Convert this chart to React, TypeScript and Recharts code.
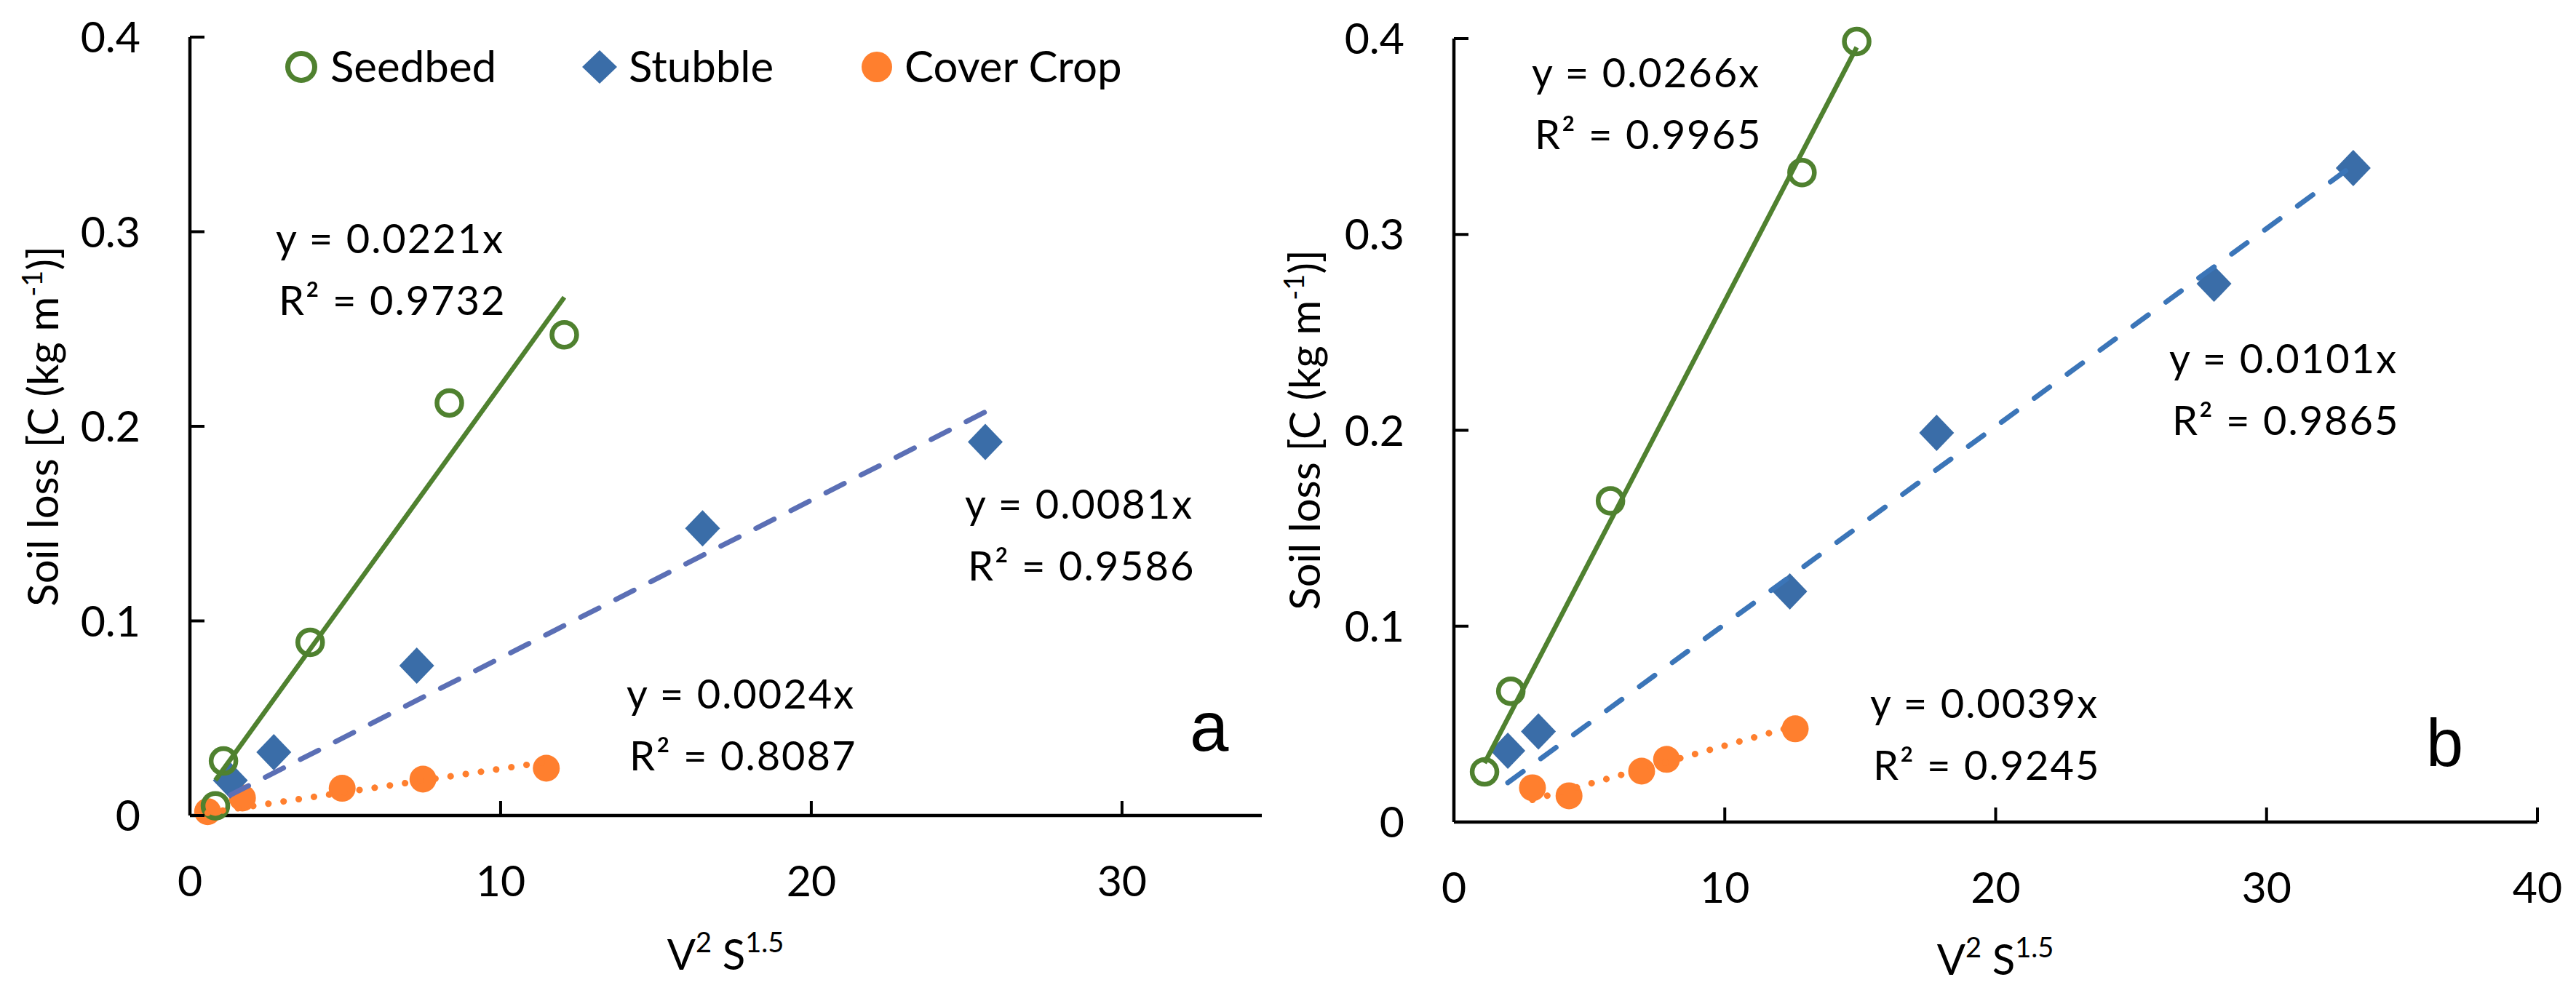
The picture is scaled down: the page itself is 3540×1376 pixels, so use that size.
import React from 'react';
import { ScatterChart, Scatter, XAxis, YAxis, Legend } from 'recharts';

// panel a
const seedbedA = [
  { x: 0.82, y: 0.005 },
  { x: 1.08, y: 0.028 },
  { x: 3.87, y: 0.089 },
  { x: 8.35, y: 0.212 },
  { x: 12.05, y: 0.247 },
];
const stubbleA = [
  { x: 1.3, y: 0.018 },
  { x: 2.7, y: 0.0325 },
  { x: 7.3, y: 0.077 },
  { x: 16.5, y: 0.1476 },
  { x: 25.6, y: 0.192 },
];
const coverA = [
  { x: 0.57, y: 0.002 },
  { x: 1.69, y: 0.009 },
  { x: 4.9, y: 0.014 },
  { x: 7.5, y: 0.0187 },
  { x: 11.47, y: 0.0243 },
];

// panel b
const seedbedB = [
  { x: 1.13, y: 0.0256 },
  { x: 2.1, y: 0.0668 },
  { x: 5.78, y: 0.164 },
  { x: 12.85, y: 0.3316 },
  { x: 14.87, y: 0.3985 },
];
const stubbleB = [
  { x: 1.99, y: 0.0364 },
  { x: 3.12, y: 0.0462 },
  { x: 12.4, y: 0.1177 },
  { x: 17.82, y: 0.1987 },
  { x: 28.06, y: 0.2748 },
  { x: 33.2, y: 0.3339 },
];
const coverB = [
  { x: 2.9, y: 0.0175 },
  { x: 4.25, y: 0.0134 },
  { x: 6.93, y: 0.026 },
  { x: 7.85, y: 0.032 },
  { x: 12.6, y: 0.0476 },
];

// trendline slopes and R² shown on the chart
const slopesA = [0.0221, 0.0081, 0.0024];
const r2A = ['0.9732', '0.9586', '0.8087'];
const slopesB = [0.0266, 0.0101, 0.0039];
const r2B = ['0.9965', '0.9865', '0.9245'];

const yTicks = [0, 0.1, 0.2, 0.3, 0.4];
const xTicksA = [0, 10, 20, 30];
const xTicksB = [0, 10, 20, 30, 40];

const seriesNames = ['Seedbed', 'Stubble', 'Cover Crop'];

const FONT = 'Lato, "Open Sans", sans-serif';
const GREEN = '#4F812F';
const BLUE = '#3A6DA8';
const ORANGE = '#FF7F2E';

// line through origin spanning the x range of the data
const trend = (data: { x: number; y: number }[], slope: number) => {
  const xs = data.map((d) => d.x);
  const lo = Math.min(...xs);
  const hi = Math.max(...xs);
  return [
    { x: lo, y: slope * lo },
    { x: hi, y: slope * hi },
  ];
};

const Ring = (p: any) => (
  <circle cx={p.cx} cy={p.cy} r={17} fill="#fff" fillOpacity={0} stroke={GREEN} strokeWidth={6.5} />
);
const Diamond = (p: any) => (
  <path d={`M${p.cx},${p.cy - 25}L${p.cx + 24},${p.cy}L${p.cx},${p.cy + 25}L${p.cx - 24},${p.cy}Z`} fill={BLUE} />
);
const Dot = (p: any) => <circle cx={p.cx} cy={p.cy} r={18.5} fill={ORANGE} />;
const NoShape = () => <g />;

const YTick = (props: any) => {
  const { x, y, payload } = props;
  return (
    <g>
      <line x1={x} x2={x + 20} y1={y} y2={y} stroke="#000" strokeWidth={4} />
      <text x={x - 68} y={y} dy="0.36em" textAnchor="end" fontFamily={FONT} fontSize={59} fill="#000">
        {payload.value}
      </text>
    </g>
  );
};

const XTick = (props: any) => {
  const { x, y, payload } = props;
  return (
    <g>
      <line x1={x} x2={x} y1={y} y2={y - 20} stroke="#000" strokeWidth={4} />
      <text x={x} y={y + 111} textAnchor="middle" fontFamily={FONT} fontSize={59} fill="#000">
        {payload.value}
      </text>
    </g>
  );
};

const LegendBox = () => (
  <svg width={1250} height={100}>
    <circle cx={54} cy={52} r={18.5} fill="none" stroke={GREEN} strokeWidth={7} />
    <text x={94} y={73} fontFamily={FONT} fontSize={60} fill="#000">{seriesNames[0]}</text>
    <path d="M464,29L488,52L464,75L440,52Z" fill={BLUE} />
    <text x={504} y={73} fontFamily={FONT} fontSize={60} fill="#000">{seriesNames[1]}</text>
    <circle cx={845} cy={52} r={21} fill={ORANGE} />
    <text x={883} y={73} fontFamily={FONT} fontSize={60} fill="#000">{seriesNames[2]}</text>
  </svg>
);

const Equation = ({ x, y, slope, r2 }: { x: number; y: number; slope: number; r2: string }) => (
  <g fontFamily={FONT} fontSize={56} fill="#000" letterSpacing={2}>
    <text x={x} y={y}>{`y = ${slope}x`}</text>
    <text x={x + 4} y={y + 85}>{`R² = ${r2}`}</text>
  </g>
);

const YTitle = ({ x, y }: { x: number; y: number }) => (
  <text x={x} y={y} transform={`rotate(-90 ${x} ${y})`} textAnchor="middle" dy="0.36em" fontFamily={FONT} fontSize={58} fill="#000">
    Soil loss [C (kg m<tspan dy={-22} fontSize={38}>-1</tspan>
    <tspan dy={22}>)]</tspan>
  </text>
);

const XTitle = ({ x, y }: { x: number; y: number }) => (
  <text x={x} y={y} textAnchor="middle" fontFamily={FONT} fontSize={58} fill="#000">
    V<tspan dy={-24} fontSize={38}>2</tspan>
    <tspan dy={24}> S</tspan>
    <tspan dy={-24} fontSize={38}>1.5</tspan>
  </text>
);

const axisLine = { stroke: '#000', strokeWidth: 4.5 };

const App = () => {
  return (
    <div style={{ position: 'absolute', left: 0, top: 0, width: 3540, height: 1376, background: '#fff', display: 'flex' }}>
      <ScatterChart width={1740} height={1376} margin={{ top: 51, right: 6, bottom: 105, left: 61 }}>
        <XAxis type="number" dataKey="x" domain={[0, 34.5]} ticks={xTicksA} allowDataOverflow height={150}
          axisLine={axisLine} tickLine={false} tickSize={0} tickMargin={0} tick={<XTick />} />
        <YAxis type="number" dataKey="y" domain={[0, 0.4]} ticks={yTicks} width={200}
          axisLine={axisLine} tickLine={false} tickSize={0} tickMargin={0} tick={<YTick />} />
        <Scatter name="Cover Crop" data={coverA} shape={Dot} isAnimationActive={false} />
        <Scatter name="Stubble" data={stubbleA} shape={Diamond} isAnimationActive={false} />
        <Scatter name="Seedbed" data={seedbedA} shape={Ring} isAnimationActive={false} />
        <Scatter data={trend(coverA, slopesA[2])} shape={NoShape} legendType="none" isAnimationActive={false}
          line={{ stroke: ORANGE, strokeWidth: 9, strokeDasharray: '0.1 21', strokeLinecap: 'round' }} />
        <Scatter data={trend(stubbleA, slopesA[1])} shape={NoShape} legendType="none" isAnimationActive={false}
          line={{ stroke: '#5B6FB5', strokeWidth: 7, strokeDasharray: '28 26', strokeLinecap: 'round' }} />
        <Scatter data={trend(seedbedA, slopesA[0])} shape={NoShape} legendType="none" isAnimationActive={false}
          line={{ stroke: GREEN, strokeWidth: 6.5 }} />
        <Legend layout="horizontal" verticalAlign="middle" align="center" content={<LegendBox />}
          wrapperStyle={{ position: 'absolute', left: 360, top: 40, width: 1250, height: 100 }} />
        <Equation x={379} y={348} slope={slopesA[0]} r2={r2A[0]} />
        <Equation x={1326} y={713} slope={slopesA[1]} r2={r2A[1]} />
        <Equation x={861} y={974} slope={slopesA[2]} r2={r2A[2]} />
        <text x={1635} y={1032} fontFamily="'Liberation Sans', Arial, sans-serif" fontSize={96} fill="#000">a</text>
        <YTitle x={59} y={586} />
        <XTitle x={997} y={1333} />
      </ScatterChart>
      <ScatterChart width={1800} height={1376} margin={{ top: 53, right: 53, bottom: 96, left: 58 }}>
        <XAxis type="number" dataKey="x" domain={[0, 40]} ticks={xTicksB} height={150}
          axisLine={axisLine} tickLine={false} tickSize={0} tickMargin={0} tick={<XTick />} />
        <YAxis type="number" dataKey="y" domain={[0, 0.4]} ticks={yTicks} width={200}
          axisLine={axisLine} tickLine={false} tickSize={0} tickMargin={0} tick={<YTick />} />
        <Scatter name="Cover Crop" data={coverB} shape={Dot} isAnimationActive={false} />
        <Scatter name="Stubble" data={stubbleB} shape={Diamond} isAnimationActive={false} />
        <Scatter name="Seedbed" data={seedbedB} shape={Ring} isAnimationActive={false} />
        <Scatter data={trend(coverB, slopesB[2])} shape={NoShape} legendType="none" isAnimationActive={false}
          line={{ stroke: ORANGE, strokeWidth: 9, strokeDasharray: '0.1 21', strokeLinecap: 'round' }} />
        <Scatter data={trend(stubbleB, slopesB[1])} shape={NoShape} legendType="none" isAnimationActive={false}
          line={{ stroke: '#3B75B8', strokeWidth: 7, strokeDasharray: '26 30', strokeLinecap: 'round' }} />
        <Scatter data={trend(seedbedB, slopesB[0])} shape={NoShape} legendType="none" isAnimationActive={false}
          line={{ stroke: GREEN, strokeWidth: 6.5 }} />
        <Equation x={365} y={120} slope={slopesB[0]} r2={r2B[0]} />
        <Equation x={1241} y={513} slope={slopesB[1]} r2={r2B[1]} />
        <Equation x={830} y={987} slope={slopesB[2]} r2={r2B[2]} />
        <text x={1594} y={1053} fontFamily="'Liberation Sans', Arial, sans-serif" fontSize={92} fill="#000">b</text>
        <YTitle x={53} y={591} />
        <XTitle x={1002} y={1340} />
      </ScatterChart>
    </div>
  );
};

export default App;
